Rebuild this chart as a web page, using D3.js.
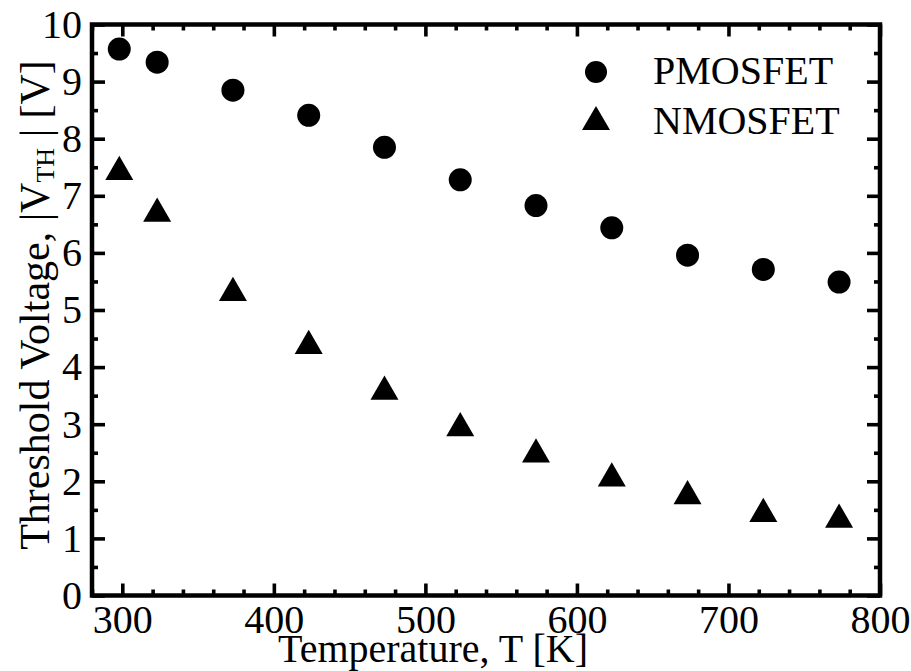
<!DOCTYPE html>
<html>
<head>
<meta charset="utf-8">
<script src="https://cdn.jsdelivr.net/npm/d3@7"></script>
<style>
  html, body { margin: 0; padding: 0; background: #fff; }
  svg { display: block; }
  text { font-family: "Liberation Serif", "Times New Roman", serif; fill: #000; }
</style>
</head>
<body>
<script>
// Temperatures (K) and measured |V_TH| (V)
const temperatures = [298, 323, 373, 423, 473, 523, 573, 623, 673, 723, 773];
const pmosVth = [9.57, 9.34, 8.85, 8.41, 7.85, 7.28, 6.83, 6.44, 5.96, 5.71, 5.49];
const nmosVth = [7.49, 6.76, 5.37, 4.44, 3.64, 3.00, 2.54, 2.12, 1.81, 1.50, 1.40];
const seriesNames = ["PMOSFET", "NMOSFET"];

const xMajorTicks = [300, 400, 500, 600, 700, 800];
const yMajorTicks = [0, 1, 2, 3, 4, 5, 6, 7, 8, 9, 10];

const W = 911, H = 671;
const plotLeft = 92, plotRight = 880, plotTop = 24.5, plotBottom = 595.5;

const x = d3.scaleLinear().domain([280, 800]).range([plotLeft, plotRight]);
const y = d3.scaleLinear().domain([0, 10]).range([plotBottom, plotTop]);

const xMinorTicks = d3.range(280, 801, 20).filter(v => v % 100 !== 0);
const yMinorTicks = d3.range(0.5, 10, 1);

const svg = d3.select("body").append("svg")
  .attr("width", W).attr("height", H)
  .attr("viewBox", `0 0 ${W} ${H}`);

// Triangle centred on its bounding box; size = side length squared
const boxTriangle = {
  draw(ctx, size) {
    const s = Math.sqrt(size);
    const h = s * Math.sqrt(3) / 2;
    ctx.moveTo(0, -h / 2);
    ctx.lineTo(s / 2, h / 2);
    ctx.lineTo(-s / 2, h / 2);
    ctx.closePath();
  }
};
const circleSym = d3.symbol(d3.symbolCircle, Math.PI * 11.5 * 11.5);
const triSym = d3.symbol(boxTriangle, 28 * 28);

function styleAxis(g) {
  g.select(".domain").remove();
  g.selectAll(".tick line").attr("stroke", "#000").attr("stroke-width", 3.6);
  g.selectAll(".tick text")
    .attr("font-family", "'Liberation Serif', 'Times New Roman', serif")
    .attr("font-size", 40).attr("fill", "#000");
}

// Inward ticks on all four sides; labels only on bottom and left
const sides = [
  { make: () => d3.axisBottom(x), tr: `translate(0,${plotBottom})`, horiz: true, labels: true },
  { make: () => d3.axisTop(x), tr: `translate(0,${plotTop})`, horiz: true, labels: false },
  { make: () => d3.axisLeft(y), tr: `translate(${plotLeft},0)`, horiz: false, labels: true },
  { make: () => d3.axisRight(y), tr: `translate(${plotRight},0)`, horiz: false, labels: false }
];

sides.forEach(s => {
  const minor = s.make()
    .tickValues(s.horiz ? xMinorTicks : yMinorTicks)
    .tickSize(-6).tickFormat("");
  svg.append("g").attr("transform", s.tr).call(minor).call(styleAxis);

  const major = s.make()
    .tickValues(s.horiz ? xMajorTicks : yMajorTicks)
    .tickSize(s.horiz ? -12 : -13)
    .tickPadding(s.horiz ? 9 : 10)
    .tickFormat(s.labels ? d3.format("d") : "");
  svg.append("g").attr("transform", s.tr).call(major).call(styleAxis);
});

// Frame
svg.append("rect")
  .attr("x", plotLeft).attr("y", plotTop)
  .attr("width", plotRight - plotLeft).attr("height", plotBottom - plotTop)
  .attr("fill", "none").attr("stroke", "#000").attr("stroke-width", 4.5);

// Data markers
svg.append("g").selectAll("path").data(temperatures)
  .join("path")
  .attr("d", circleSym)
  .attr("transform", (t, i) => `translate(${x(t)},${y(pmosVth[i])})`)
  .attr("fill", "#000");

svg.append("g").selectAll("path").data(temperatures)
  .join("path")
  .attr("d", triSym)
  .attr("transform", (t, i) => `translate(${x(t)},${y(nmosVth[i])})`)
  .attr("fill", "#000");

// Legend
const legend = svg.append("g");
const legendRows = [
  { name: seriesNames[0], sym: d3.symbol(d3.symbolCircle, Math.PI * 11 * 11), sy: 72, ty: 84 },
  { name: seriesNames[1], sym: triSym, sy: 118, ty: 134 }
];
legendRows.forEach(r => {
  legend.append("path").attr("d", r.sym)
    .attr("transform", `translate(596,${r.sy})`).attr("fill", "#000");
  legend.append("text").attr("x", 653).attr("y", r.ty)
    .attr("font-size", 40).text(r.name);
});

// Axis titles
svg.append("text")
  .attr("x", 278).attr("y", 662)
  .attr("font-size", 40)
  .text("Temperature, T [K]");

const yt = svg.append("text")
  .attr("transform", "translate(49,305) rotate(-90)")
  .attr("text-anchor", "middle")
  .attr("font-size", 42);
yt.append("tspan").text("Threshold Voltage, |V");
yt.append("tspan").attr("font-size", 26).attr("dy", 5).text("TH");
yt.append("tspan").attr("dy", -5).text(" | [V]");
</script>
</body>
</html>
